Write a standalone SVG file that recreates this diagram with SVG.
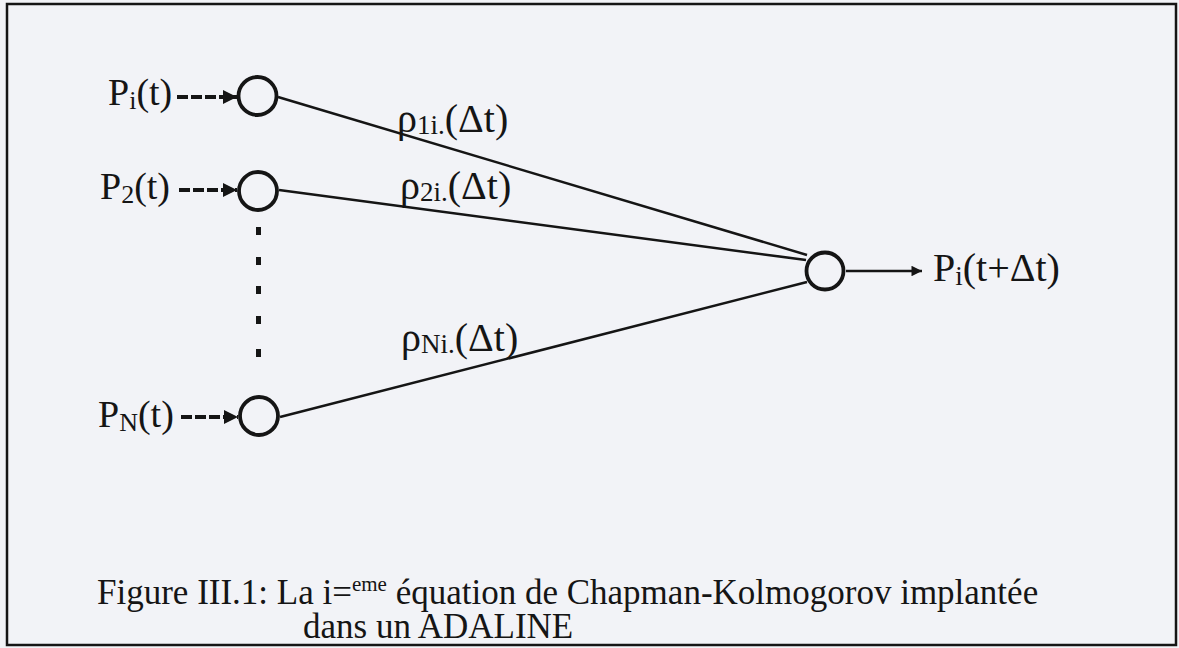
<svg xmlns="http://www.w3.org/2000/svg" width="1179" height="648" viewBox="0 0 1179 648">
<style>
.lbl{font-family:"Liberation Serif","Times New Roman",serif;fill:#151515;}
.node{fill:none;stroke:#151515;stroke-width:3.8;}
.edge{stroke:#151515;stroke-width:2.5;fill:none;}
.dash{stroke:#151515;stroke-width:4;stroke-dasharray:11 3;fill:none;}
</style>
<defs>
<marker id="ah" viewBox="0 0 10 10" refX="10" refY="5" markerWidth="4.5" markerHeight="3.5" markerUnits="strokeWidth" orient="auto"><path d="M0,0 L10,5 L0,10 z" fill="#151515"/></marker>
<marker id="ah2" viewBox="0 0 10 10" refX="10" refY="5" markerWidth="5.6" markerHeight="4.2" markerUnits="strokeWidth" orient="auto"><path d="M0,0 L10,5 L0,10 z" fill="#151515"/></marker>
</defs>
<rect x="0" y="0" width="1179" height="648" fill="#f2f3f7"/>
<rect x="7" y="4" width="1169" height="641" fill="none" stroke="#151515" stroke-width="2.5"/>
<g id="connectors">
<line class="dash" x1="177" y1="97" x2="237" y2="97" marker-end="url(#ah)"/>
<line class="dash" x1="179" y1="190" x2="237" y2="190" marker-end="url(#ah)"/>
<line class="dash" x1="181" y1="417" x2="238" y2="417" marker-end="url(#ah)"/>
<line class="edge" x1="278" y1="97" x2="807" y2="255"/>
<line class="edge" x1="279" y1="190" x2="806" y2="260"/>
<line class="edge" x1="280" y1="417" x2="807" y2="282"/>
<line class="edge" x1="846" y1="271" x2="922" y2="271" stroke-width="3.5" marker-end="url(#ah2)"/>
</g>
<g id="dots" fill="#151515">
<rect x="256" y="227" width="5" height="8"/>
<rect x="256" y="257" width="5" height="8"/>
<rect x="256" y="286" width="5" height="8"/>
<rect x="256" y="316" width="5" height="8"/>
<rect x="256" y="349" width="5" height="8"/>
</g>
<g id="node-p1"><circle class="node" cx="257.5" cy="96" r="19"/><text class="lbl" x="108" y="105" font-size="38">P<tspan font-size="26" dy="4">i</tspan><tspan dy="-4">(t)</tspan></text></g>
<g id="node-p2"><circle class="node" cx="258" cy="191" r="19"/><text class="lbl" x="100" y="199" font-size="38">P<tspan font-size="26" dy="4">2</tspan><tspan dy="-4">(t)</tspan></text></g>
<g id="node-pn"><circle class="node" cx="259" cy="416" r="19"/><text class="lbl" x="98" y="427" font-size="38">P<tspan font-size="26" dy="4">N</tspan><tspan dy="-4">(t)</tspan></text></g>
<g id="node-out"><circle class="node" cx="825" cy="271" r="18.5"/><text class="lbl" x="933" y="281" font-size="40">P<tspan font-size="27" dy="4">i</tspan><tspan dy="-4">(t+Δt)</tspan></text></g>
<g id="weights">
<text class="lbl" x="397" y="132" font-size="40">ρ<tspan font-size="27" dy="2">1i.</tspan><tspan dy="-2">(Δt)</tspan></text>
<text class="lbl" x="400" y="199" font-size="40">ρ<tspan font-size="27" dy="2">2i.</tspan><tspan dy="-2">(Δt)</tspan></text>
<text class="lbl" x="401" y="351" font-size="40">ρ<tspan font-size="27" dy="2">Ni.</tspan><tspan dy="-2">(Δt)</tspan></text>
</g>
<g id="caption">
<text class="lbl" x="97" y="604" font-size="35">Figure III.1: La i=<tspan font-size="21" dy="-13">eme</tspan><tspan dy="13"> équation de Chapman-Kolmogorov implantée</tspan></text>
<text class="lbl" x="303" y="638" font-size="35">dans un ADALINE</text>
</g>
</svg>
